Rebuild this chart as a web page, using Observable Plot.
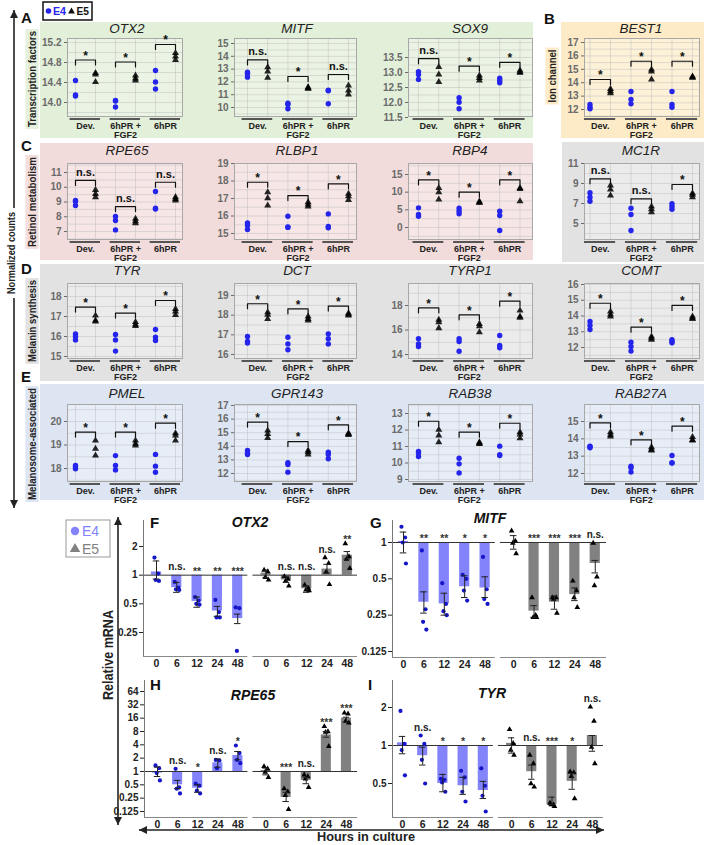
<!DOCTYPE html>
<html><head><meta charset="utf-8">
<script src="https://cdn.jsdelivr.net/npm/d3@7"></script>
<script src="https://cdn.jsdelivr.net/npm/@observablehq/plot@0.6"></script>
<style>
body{margin:0;background:#fff;}
#root{position:relative;width:708px;height:845px;overflow:hidden;font-family:"Liberation Sans",Arial,sans-serif;}
</style></head><body><div id="root"></div>
<script>
// ---------------- DATA: normalized counts (top panels) ----------------
const GROUPS = ["Dev.", "6hPR +\nFGF2", "6hPR"];
const OTX2_E4 = [[14.44,14.15,14.13],[14.04,14.03,13.91],[14.64,14.41,14.27]];
const OTX2_E5 = [[14.59,14.56,14.41],[14.54,14.48,14.44],[14.99,14.92,14.85]];
const OTX2_SIG = ["*","*","*"];
const OTX2_BRK = [14.85,14.81,15.16];
const MITF_E4 = [[12.76,12.63,12.37],[10.34,10.23,9.9],[11.35,11.31,10.29]];
const MITF_E5 = [[13.15,12.81,12.32],[11.59,11.5,11.46],[11.72,11.33,11.02]];
const MITF_SIG = ["n.s.","*","n.s."];
const MITF_BRK = [13.72,12.42,12.58];
const SOX9_E4 = [[13.03,12.93,12.77],[12.16,12.01,11.79],[12.81,12.73,12.66]];
const SOX9_E5 = [[13.18,12.93,12.68],[12.9,12.82,12.73],[13.07,13.01,12.99]];
const SOX9_SIG = ["n.s.","*","*"];
const SOX9_BRK = [13.46,13.21,13.34];
const BEST1_E4 = [[12.37,12.17,12.05],[13.34,12.75,12.42],[13.34,12.37,12.17]];
const BEST1_E5 = [[13.54,13.37,13.22],[14.99,14.84,14.24],[14.46,14.41,14.38]];
const BEST1_SIG = ["*","*","*"];
const BEST1_BRK = [14.24,15.6,15.6];
const RPE65_E4 = [[9.1,9.03,8.76],[8.02,7.75,7.11],[9.71,8.58,8.52]];
const RPE65_E5 = [[9.82,9.55,9.33],[7.86,7.7,7.56],[9.33,9.21,9.1]];
const RPE65_SIG = ["n.s.","n.s.","n.s."];
const RPE65_BRK = [10.46,8.69,10.34];
const RLBP1_E4 = [[15.61,15.46,15.23],[15.99,15.38,15.35],[16.12,15.4,15.33]];
const RLBP1_E5 = [[17.36,17.02,16.6],[16.79,16.66,16.54],[17.27,17.13,16.92]];
const RLBP1_SIG = ["*","*","*"];
const RLBP1_BRK = [17.93,17.17,17.84];
const RBP4_E4 = [[5.56,3.68,3.2],[5.47,4.62,3.87],[4.62,3.4,-0.85]];
const RBP4_E5 = [[11.2,9.99,7.92],[7.36,7.1,6.98],[11.2,10.9,7.45]];
const RBP4_SIG = ["*","*","*"];
const RBP4_BRK = [13.49,9.99,13.49];
const MC1R_E4 = [[8.07,7.63,7.23],[6.53,5.9,4.3],[6.97,6.7,6.43]];
const MC1R_E5 = [[8.8,8.4,7.8],[6.7,6.43,6.13],[8.03,7.87,7.63]];
const MC1R_SIG = ["n.s.","n.s.","*"];
const MC1R_BRK = [9.47,7.47,8.9];
const TYR_E4 = [[16.13,16.0,15.83],[16.1,15.83,15.27],[16.35,15.97,15.8]];
const TYR_E5 = [[17.05,16.8,16.75],[16.72,16.6,16.52],[17.38,17.25,17.08]];
const TYR_SIG = ["*","*","*"];
const TYR_BRK = [17.47,17.17,17.8];
const DCT_E4 = [[16.92,16.66,16.58],[16.88,16.54,16.24],[17.05,16.8,16.54]];
const DCT_E5 = [[18.15,18.02,17.81],[17.93,17.81,17.73],[18.1,18.03,17.98]];
const DCT_SIG = ["*","*","*"];
const DCT_BRK = [18.58,18.32,18.46];
const TYRP1_E4 = [[15.28,14.87,14.65],[15.28,15.06,14.27],[15.55,14.73,14.55]];
const TYRP1_E5 = [[16.83,16.64,16.15],[16.5,16.31,15.82],[17.59,17.1,17.0]];
const TYRP1_SIG = ["*","*","*"];
const TYRP1_BRK = [17.81,17.24,18.35];
const COMT_E4 = [[13.65,13.4,13.14],[12.34,12.06,11.77],[12.49,12.38,12.3]];
const COMT_E5 = [[14.29,14.1,13.97],[12.7,12.59,12.49],[13.97,13.85,13.82]];
const COMT_SIG = ["*","*","*"];
const COMT_BRK = [14.81,13.29,14.67];
const PMEL_E4 = [[18.13,18.06,17.99],[18.55,18.13,17.94],[18.6,18.1,17.84]];
const PMEL_E5 = [[19.19,18.84,18.55],[19.19,19.05,18.98],[19.5,19.4,19.19]];
const PMEL_SIG = ["*","*","*"];
const PMEL_BRK = [19.55,19.55,19.93];
const GPR143_E4 = [[13.69,13.5,13.4],[12.79,12.66,12.1],[13.57,13.4,13.08]];
const GPR143_E5 = [[15.16,14.9,14.62],[13.69,13.57,13.4],[14.96,14.9,14.84]];
const GPR143_SIG = ["*","*","*"];
const GPR143_BRK = [15.78,14.35,15.58];
const RAB38_E4 = [[10.7,10.6,10.39],[10.29,9.95,9.4],[11.02,10.5,10.45]];
const RAB38_E5 = [[12.01,11.67,11.26],[11.26,11.2,11.16],[11.87,11.73,11.5]];
const RAB38_SIG = ["*","*","*"];
const RAB38_BRK = [12.53,11.87,12.41];
const RAB27A_E4 = [[13.58,13.55,13.48],[12.42,12.33,12.08],[13.04,12.62,12.6]];
const RAB27A_E5 = [[14.38,14.23,14.13],[13.52,13.38,13.33],[14.1,13.94,13.9]];
const RAB27A_SIG = ["*","*","*"];
const RAB27A_BRK = [14.92,13.94,14.73];

// ---------------- DATA: relative mRNA (bottom panels) ----------------
const HOURS = ["0","6","12","24","48"];
const qOTX2_E4_PTS = [[1.53,1.04,0.89,0.87],[0.85,0.74,0.71,0.70],[0.59,0.54,0.50,0.49],[0.55,0.41,0.36,0.36],[0.46,0.45,0.16]];
const qOTX2_E4_MEAN = [1.08,0.74,0.53,0.42,0.35];
const qOTX2_E4_LO = [0.91,0.66,0.46,0.37,0.31];
const qOTX2_E4_HI = [1.41,0.84,0.59,0.47,0.39];
const qOTX2_E4_SIG = ["","n.s.","**","**","***"];
const qOTX2_E5_PTS = [[1.13,1.09,0.95,0.89],[0.97,0.91,0.87,0.77],[0.79,0.73,0.70,0.69],[1.53,1.33,1.08,0.80],[2.15,1.57,1.47,1.18]];
const qOTX2_E5_MEAN = [1.05,0.89,0.72,1.16,1.62];
const qOTX2_E5_LO = [0.95,0.84,0.66,1.05,1.48];
const qOTX2_E5_HI = [1.13,0.96,0.77,1.30,1.77];
const qOTX2_E5_SIG = ["","n.s.","n.s.","n.s.","**"];

const qMITF_E4_PTS = [[1.35,1.1,1.0,0.67],[0.86,0.28,0.22,0.19],[0.46,0.31,0.27,0.25],[0.54,0.50,0.40,0.33],[0.76,0.41,0.34,0.31]];
const qMITF_E4_MEAN = [1.02,0.32,0.31,0.43,0.42];
const qMITF_E4_LO = [0.82,0.26,0.25,0.35,0.35];
const qMITF_E4_HI = [1.22,0.39,0.38,0.53,0.52];
const qMITF_E4_SIG = ["","**","**","*","*"];
const qMITF_E5_PTS = [[1.25,1.03,0.99,0.81],[0.35,0.25,0.24,0.24],[0.35,0.35,0.34,0.26],[0.48,0.40,0.35,0.29],[0.99,0.52,0.44]];
const qMITF_E5_MEAN = [1.0,0.27,0.32,0.37,0.67];
const qMITF_E5_LO = [0.88,0.24,0.28,0.33,0.56];
const qMITF_E5_HI = [1.14,0.30,0.36,0.42,0.71];
const qMITF_E5_SIG = ["","***","***","***","n.s."];

const qRPE65_E4_PTS = [[1.37,1.19,0.92,0.63],[1.15,0.44,0.41,0.32],[0.53,0.48,0.37,0.32],[1.83,1.77,1.19],[3.86,2.6,1.83,1.54]];
const qRPE65_E4_MEAN = [0.92,0.5,0.42,1.57,2.3];
const qRPE65_E4_LO = [0.77,0.41,0.34,1.25,1.83];
const qRPE65_E4_HI = [1.25,0.63,0.5,1.93,2.83];
const qRPE65_E4_SIG = ["","n.s.","*","n.s.","*"];
const qRPE65_E5_PTS = [[1.3,1.15,0.97,0.74],[0.41,0.35,0.29,0.14],[0.84,0.77,0.68,0.44],[10.4,8.0,7.7,3.7],[21,20,13.7,12.5]];
const qRPE65_E5_MEAN = [1.05,0.26,0.63,6.7,16];
const qRPE65_E5_LO = [0.84,0.21,0.53,5.95,12.9];
const qRPE65_E5_HI = [1.19,0.34,0.74,8.0,16.8];
const qRPE65_E5_SIG = ["","***","n.s.","***","***"];

const qTYR_E4_PTS = [[1.88,1.03,0.92,0.58],[1.2,1.03,0.77,0.50],[0.545,0.535,0.51,0.43],[0.63,0.56,0.43,0.36],[0.66,0.48,0.40,0.30]];
const qTYR_E4_MEAN = [1.05,0.83,0.50,0.48,0.44];
const qTYR_E4_LO = [0.86,0.70,0.43,0.41,0.38];
const qTYR_E4_HI = [1.18,0.97,0.59,0.56,0.52];
const qTYR_E4_SIG = ["","n.s.","*","*","*"];
const qTYR_E5_PTS = [[1.34,1.04,0.92,0.84],[0.84,0.72,0.50,0.47],[0.35,0.34,0.34,0.33],[0.62,0.61,0.57,0.38],[2.02,1.56,0.97,0.72]];
const qTYR_E5_MEAN = [1.04,0.62,0.34,0.52,1.2];
const qTYR_E5_LO = [0.87,0.54,0.34,0.45,0.9];
const qTYR_E5_HI = [1.15,0.70,0.39,0.60,1.2];
const qTYR_E5_SIG = ["","n.s.","***","*","n.s."];

// ---------------- LAYOUT ----------------
const FONT = '"Liberation Sans", Arial, sans-serif';
const root = document.getElementById("root");
function place(node, x, y, z){
  const d = document.createElement("div");
  d.style.cssText = `position:absolute;left:${x}px;top:${y}px;z-index:${z};line-height:0;`;
  d.appendChild(node); root.appendChild(d);
}
const ROWS = [{yt:38,yb:116,ty:28},{yt:163,yb:239,ty:150},{yt:283,yb:358,ty:270},{yt:404,yb:481,ty:393}];
const COLS = [{xl:67,xr:182,p0:75,st:20,tx:127},{xl:234,xr:356,p0:247,st:20.2,tx:297},
              {xl:408,xr:532,p0:418,st:20.3,tx:470},{xl:584,xr:699,p0:589.5,st:20.5,tx:641}];
const TOP = [
 {g:"OTX2",e4:OTX2_E4,e5:OTX2_E5,sig:OTX2_SIG,brk:OTX2_BRK,ticks:[14.0,14.4,14.8,15.2],fmt:".1f",t:[15.2,42,14.0,102],row:0,col:0},
 {g:"MITF",e4:MITF_E4,e5:MITF_E5,sig:MITF_SIG,brk:MITF_BRK,ticks:[10,11,12,13,14,15],fmt:"d",t:[15,43,10,107],row:0,col:1},
 {g:"SOX9",e4:SOX9_E4,e5:SOX9_E5,sig:SOX9_SIG,brk:SOX9_BRK,ticks:[11.5,12.0,12.5,13.0,13.5],fmt:".1f",t:[13.5,57,11.5,117],row:0,col:2},
 {g:"BEST1",e4:BEST1_E4,e5:BEST1_E5,sig:BEST1_SIG,brk:BEST1_BRK,ticks:[12,13,14,15,16,17],fmt:"d",t:[17,42,12,109],row:0,col:3},
 {g:"RPE65",e4:RPE65_E4,e5:RPE65_E5,sig:RPE65_SIG,brk:RPE65_BRK,ticks:[7,8,9,10,11],fmt:"d",t:[11,172,7,231],row:1,col:0},
 {g:"RLBP1",e4:RLBP1_E4,e5:RLBP1_E5,sig:RLBP1_SIG,brk:RLBP1_BRK,ticks:[15,16,17,18,19],fmt:"d",t:[19,163,15,233],row:1,col:1},
 {g:"RBP4",e4:RBP4_E4,e5:RBP4_E5,sig:RBP4_SIG,brk:RBP4_BRK,ticks:[0,5,10,15],fmt:"d",t:[15,174,0,227],row:1,col:2},
 {g:"MC1R",e4:MC1R_E4,e5:MC1R_E5,sig:MC1R_SIG,brk:MC1R_BRK,ticks:[5,7,9,11],fmt:"d",t:[11,163,5,223],row:1,col:3},
 {g:"TYR",e4:TYR_E4,e5:TYR_E5,sig:TYR_SIG,brk:TYR_BRK,ticks:[15,16,17,18],fmt:"d",t:[18,296,15,356],row:2,col:0},
 {g:"DCT",e4:DCT_E4,e5:DCT_E5,sig:DCT_SIG,brk:DCT_BRK,ticks:[16,17,18,19],fmt:"d",t:[19,295,16,354],row:2,col:1},
 {g:"TYRP1",e4:TYRP1_E4,e5:TYRP1_E5,sig:TYRP1_SIG,brk:TYRP1_BRK,ticks:[14,16,18],fmt:"d",t:[18,305,14,354],row:2,col:2},
 {g:"COMT",e4:COMT_E4,e5:COMT_E5,sig:COMT_SIG,brk:COMT_BRK,ticks:[12,13,14,15,16],fmt:"d",t:[16,284,12,347],row:2,col:3},
 {g:"PMEL",e4:PMEL_E4,e5:PMEL_E5,sig:PMEL_SIG,brk:PMEL_BRK,ticks:[18,19,20],fmt:"d",t:[20,421,18,468],row:3,col:0},
 {g:"GPR143",e4:GPR143_E4,e5:GPR143_E5,sig:GPR143_SIG,brk:GPR143_BRK,ticks:[12,13,14,15,16,17],fmt:"d",t:[17,405,12,473],row:3,col:1},
 {g:"RAB38",e4:RAB38_E4,e5:RAB38_E5,sig:RAB38_SIG,brk:RAB38_BRK,ticks:[9,10,11,12,13],fmt:"d",t:[13,413,9,479],row:3,col:2},
 {g:"RAB27A",e4:RAB27A_E4,e5:RAB27A_E5,sig:RAB27A_SIG,brk:RAB27A_BRK,ticks:[12,13,14,15],fmt:"d",t:[15,421,12,473],row:3,col:3}
];

// ---------------- BACKGROUND ----------------
const bg = d3.create("svg").attr("width",708).attr("height",845);
const BANDS = [[40,22,493,116,"#e2efd9"],[561,22,143,116,"#fdebc8"],[40,143,493,117,"#f2dcdb"],
               [562,142,142,120,"#e2e2e2"],[40,264,664,117,"#e2e2e2"],[40,384,664,116,"#dde5f2"]];
BANDS.forEach(b=>bg.append("rect").attr("x",b[0]).attr("y",b[1]).attr("width",b[2]).attr("height",b[3]).attr("fill",b[4]));
place(bg.node(),0,0,0);

// ---------------- TOP PANELS ----------------
function topPanel(p){
  const R = ROWS[p.row], C = COLS[p.col];
  const [v1,p1,v2,p2] = p.t;
  const ppu = (p2-p1)/(v1-v2);
  const vAt = y => v1 - (y-p1)/ppu;
  const ydom = [vAt(R.yb), vAt(R.yt)];
  const sAt = px => (px-C.p0)/C.st;
  const xdom = [sAt(C.xl), sAt(C.xr)];
  const mL=34,mR=4,mT=4,mB=28;
  const W = C.xr-C.xl+mL+mR, H = R.yb-R.yt+mT+mB;
  const e4 = [], e5 = [];
  p.e4.forEach((a,g)=>a.forEach(v=>e4.push({x:2*g,y:v})));
  p.e5.forEach((a,g)=>a.forEach(v=>e5.push({x:2*g+1,y:v})));
  const d = 5/ppu;
  const br = p.brk.flatMap((b,g)=>[{x:2*g,y:b-d,g},{x:2*g,y:b,g},{x:2*g+1,y:b,g},{x:2*g+1,y:b-d,g}]);
  const half = (p.ticks[1]-p.ticks[0])/2;
  const grid = d3.range(Math.ceil(ydom[0]/half-1e-9), Math.floor(ydom[1]/half+1e-9)+1).map(k=>k*half);
  const labs = p.sig.map((s,i)=>({s,i,y:p.brk[i]}));
  const plot = Plot.plot({
    width:W, height:H, marginLeft:mL, marginRight:mR, marginTop:mT, marginBottom:mB,
    x:{domain:xdom, axis:null, label:null},
    y:{domain:ydom, ticks:p.ticks, tickFormat:d3.format(p.fmt), tickSize:3, tickPadding:3, label:null},
    style:{background:"transparent", overflow:"visible", color:"#6a6a6a", fontSize:"10px", fontWeight:"bold", fontFamily:FONT},
    marks:[
      Plot.frame({fill:"white", fillOpacity:0.3}),
      Plot.ruleY(grid, {stroke:"#b8b8b8", strokeOpacity:0.7, strokeWidth:0.6}),
      Plot.ruleX(d3.range(0,6), {stroke:"#b8b8b8", strokeOpacity:0.7, strokeWidth:0.6}),
      Plot.frame({stroke:"#a8a8a8"}),
      Plot.ruleY(GROUPS, {y:()=>ydom[0], x1:(d,i)=>2*i-0.27, x2:(d,i)=>2*i+1.25, dy:2.5, stroke:"#555", strokeWidth:2}),
      Plot.text(GROUPS, {x:(d,i)=>2*i+0.5, y:()=>ydom[0], dy:5.5, text:d=>d, lineAnchor:"top", lineHeight:1.05, fontSize:9, fontWeight:"bold", fill:"#222"}),
      Plot.line(br, {x:"x", y:"y", z:"g", stroke:"#111", strokeWidth:1.2}),
      Plot.text(labs.filter(l=>l.s==="*"), {x:l=>2*l.i+0.5, y:"y", text:"s", dy:-4, fontSize:12, fontWeight:"bold", fill:"#111"}),
      Plot.text(labs.filter(l=>l.s!=="*"), {x:l=>2*l.i+0.5, y:"y", text:"s", dy:-8, fontSize:11, fontWeight:"bold", fill:"#111"}),
      Plot.dot(e4, {x:"x", y:"y", r:2.7, fill:"#2424ec", stroke:"none"}),
      Plot.dot(e5, {x:"x", y:"y", r:2.6, symbol:"triangle", fill:"#000", fillOpacity:0.85, stroke:"none"})
    ]
  });
  place(plot, C.xl-mL, R.yt-mT, 1);
}
TOP.forEach(topPanel);

// ---------------- BOTTOM PANELS ----------------
const BOT = [
 {g:"OTX2", L:"F", s:[[qOTX2_E4_PTS,qOTX2_E4_MEAN,qOTX2_E4_LO,qOTX2_E4_HI,qOTX2_E4_SIG],[qOTX2_E5_PTS,qOTX2_E5_MEAN,qOTX2_E5_LO,qOTX2_E5_HI,qOTX2_E5_SIG]],
  ticks:[0.25,0.5,1,2], t:[2,546,0.25,632], xl:143, xr:357, yt:520, yb:656, s0:156, st:20.3},
 {g:"MITF", L:"G", s:[[qMITF_E4_PTS,qMITF_E4_MEAN,qMITF_E4_LO,qMITF_E4_HI,qMITF_E4_SIG],[qMITF_E5_PTS,qMITF_E5_MEAN,qMITF_E5_LO,qMITF_E5_HI,qMITF_E5_SIG]],
  ticks:[0.125,0.25,0.5,1], t:[1,542,0.125,651], xl:392, xr:606, yt:520, yb:657, s0:403, st:20.4},
 {g:"RPE65", L:"H", s:[[qRPE65_E4_PTS,qRPE65_E4_MEAN,qRPE65_E4_LO,qRPE65_E4_HI,qRPE65_E4_SIG],[qRPE65_E5_PTS,qRPE65_E5_MEAN,qRPE65_E5_LO,qRPE65_E5_HI,qRPE65_E5_SIG]],
  ticks:[0.125,0.25,0.5,1,2,4,8,16,32,64], t:[64,691,0.125,811], xl:144, xr:357, yt:680, yb:817, s0:157, st:20.1},
 {g:"TYR", L:"I", s:[[qTYR_E4_PTS,qTYR_E4_MEAN,qTYR_E4_LO,qTYR_E4_HI,qTYR_E4_SIG],[qTYR_E5_PTS,qTYR_E5_MEAN,qTYR_E5_LO,qTYR_E5_HI,qTYR_E5_SIG]],
  ticks:[0.5,1,2], t:[2,707,0.5,783], xl:392, xr:603, yt:680, yb:817, s0:402, st:20.2}
];
const JIT = [-0.1,0.08,-0.04,0.12];
function botPanel(p){
  const [va,pa,vb,pb] = p.t;
  const ppd = (pb-pa)/Math.log2(va/vb);
  const vAt = y => va*Math.pow(2, -(y-pa)/ppd);
  const ydom = [vAt(p.yb), vAt(p.yt)];
  const sAt = px => (px-p.s0)/p.st;
  const xdom = [sAt(p.xl), sAt(p.xr)];
  const mL=36,mR=4,mT=4,mB=18;
  const W = p.xr-p.xl+mL+mR, H = p.yb-p.yt+mT+mB;
  const STY = [{off:0,bar:"#8383fb",dot:"#1616c8",sym:"circle",r:2.1},{off:5.4,bar:"#818181",dot:"#000",sym:"triangle",r:2.1}];
  const bars=[], pts=[[],[]], labs=[], hrs=[];
  p.s.forEach(([P,M,LO,HI,SIG],k)=>{
    const o = STY[k].off;
    M.forEach((m,i)=>{
      bars.push({x:o+i, k, m, lo:LO[i], hi:HI[i]});
      P[i].forEach((v,j)=>pts[k].push({x:o+i+JIT[j%4], y:v}));
      if (SIG[i]) labs.push({x:o+i, s:SIG[i], y:Math.max(1, d3.max(P[i]), HI[i])});
      hrs.push({x:o+i, h:HOURS[i]});
    });
  });
  const halves = [{a:xdom[0], b:4.5},{a:4.75, b:xdom[1]}];
  const plot = Plot.plot({
    width:W, height:H, marginLeft:mL, marginRight:mR, marginTop:mT, marginBottom:mB,
    x:{domain:xdom, axis:null, label:null},
    y:{type:"log", base:2, domain:ydom, ticks:p.ticks, tickFormat:d=>String(d), tickSize:4, tickPadding:2, label:null},
    style:{background:"transparent", overflow:"visible", color:"#222", fontSize:"10px", fontWeight:"bold", fontFamily:FONT},
    marks:[
      Plot.rect(bars, {x1:d=>d.x-0.25, x2:d=>d.x+0.25, y1:()=>1, y2:"m", fill:d=>STY[d.k].bar}),
      Plot.ruleY(halves, {y:()=>1, x1:"a", x2:"b", stroke:"#333", strokeWidth:1}),
      Plot.ruleY(halves, {y:()=>ydom[0], x1:"a", x2:"b", stroke:"#888", strokeWidth:1.2}),
      Plot.ruleX([xdom[0]], {stroke:"#777", strokeWidth:1}),
      Plot.dot(pts[0], {x:"x", y:"y", r:STY[0].r, fill:STY[0].dot, stroke:"none"}),
      Plot.dot(pts[1], {x:"x", y:"y", r:STY[1].r, symbol:"triangle", fill:STY[1].dot, stroke:"none"}),
      Plot.ruleX(bars, {x:"x", y1:"lo", y2:"hi", stroke:"#222", strokeWidth:1}),
      Plot.ruleY(bars, {y:"lo", x1:d=>d.x-0.16, x2:d=>d.x+0.16, stroke:"#222", strokeWidth:1}),
      Plot.ruleY(bars, {y:"hi", x1:d=>d.x-0.16, x2:d=>d.x+0.16, stroke:"#222", strokeWidth:1}),
      Plot.text(labs.filter(l=>l.s[0]==="*"), {x:"x", y:"y", text:"s", dy:-4, fontSize:10.5, fontWeight:"bold", fill:"#333"}),
      Plot.text(labs.filter(l=>l.s[0]!=="*"), {x:"x", y:"y", text:"s", dy:-8, fontSize:10, fontWeight:"bold", fill:"#222"}),
      Plot.text(hrs, {x:"x", y:()=>ydom[0], dy:7, text:"h", fontSize:10.5, fontWeight:"bold", fill:"#222"})
    ]
  });
  place(plot, p.xl-mL, p.yt-mT, 1);
}
BOT.forEach(botPanel);

// ---------------- OVERLAY: titles, labels, arrows, legends ----------------
const ov = d3.create("svg").attr("width",708).attr("height",845).style("font-family",FONT).style("pointer-events","none");
TOP.forEach(p=>ov.append("text").attr("x",COLS[p.col].tx).attr("y",ROWS[p.row].ty).attr("text-anchor","middle")
  .attr("dominant-baseline","central").attr("font-style","italic").attr("font-size",13.5).attr("fill","#222").text(p.g));
const BT = [[250,522],[490,518],[253,695],[492,693]];
BOT.forEach((p,i)=>ov.append("text").attr("x",BT[i][0]).attr("y",BT[i][1]).attr("text-anchor","middle")
  .attr("dominant-baseline","central").attr("font-style","italic").attr("font-weight","bold").attr("font-size",14).attr("fill","#111").text(p.g));
// panel letters
[["A",21,23],["B",544,24],["C",21,151],["D",21,274],["E",21,382]].forEach(([t,x,y])=>
  ov.append("text").attr("x",x).attr("y",y).attr("font-weight","bold").attr("font-size",15).attr("fill","#111").text(t));
[["F",150,528],["G",370,528],["H",150,690],["I",368,690]].forEach(([t,x,y])=>
  ov.append("text").attr("x",x).attr("y",y).attr("font-weight","bold").attr("font-size",15).attr("fill","#111").text(t));
// arrows
function arrow(x1,y1,x2,y2){
  ov.append("line").attr("x1",x1).attr("y1",y1).attr("x2",x2).attr("y2",y2).attr("stroke","#222").attr("stroke-width",1.6);
  const head = (x,y,dx,dy)=>{ const px=-dy, py=dx;
    ov.append("path").attr("d",`M${x},${y}L${x-dx*8+px*4},${y-dy*8+py*4}L${x-dx*8-px*4},${y-dy*8-py*4}Z`).attr("fill","#222"); };
  const L = Math.hypot(x2-x1,y2-y1), ux=(x2-x1)/L, uy=(y2-y1)/L;
  head(x2,y2,ux,uy); head(x1,y1,-ux,-uy);
}
arrow(14,10,14,508);
arrow(118,517,118,825);
arrow(139,830,604,830);
// rotated labels
function vlabel(txt,cx,cy,len,size,bgc,pad){
  if (bgc) ov.append("rect").attr("x",cx-size*0.6).attr("y",cy-len/2-(pad||2)).attr("width",size*1.2).attr("height",len+2*(pad||2)).attr("fill",bgc);
  ov.append("text").attr("transform",`translate(${cx},${cy}) rotate(-90)`).attr("text-anchor","middle").attr("dominant-baseline","central")
    .attr("font-weight","bold").attr("font-size",size).attr("fill","#222").attr("textLength",len).attr("lengthAdjust","spacingAndGlyphs").text(txt);
}
vlabel("Transcription factors",32,79,96,11,"#e6f1dd");
vlabel("Ion channel",552,76,53,11,"#fdebc8");
vlabel("Retinol metabolism",32,202,90,11,"#f4dfde");
vlabel("Melanin synthesis",32,321,82,11,"#e2e2e2");
vlabel("Melanosome-associated",32,444,112,11,"#dde5f2");
vlabel("Normalized counts",11,253,82,11.5,"#fff",4);
vlabel("Relative mRNA",108,655,90,14,null);
ov.append("text").attr("x",366).attr("y",841).attr("text-anchor","middle").attr("font-weight","bold").attr("font-size",13.5)
  .attr("fill","#222").attr("textLength",98).attr("lengthAdjust","spacingAndGlyphs").text("Hours in culture");
// top legend
ov.append("rect").attr("x",43).attr("y",2).attr("width",49).attr("height",18).attr("fill","#fff").attr("stroke","#111").attr("stroke-width",1.5);
ov.append("circle").attr("cx",48.5).attr("cy",11).attr("r",2.8).attr("fill","#2424ec");
ov.append("text").attr("x",53).attr("y",15.3).attr("font-weight","bold").attr("font-size",11.5).attr("fill","#2424ec").attr("textLength",13).attr("lengthAdjust","spacingAndGlyphs").text("E4");
ov.append("path").attr("d",d3.symbol(d3.symbolTriangle,20)()).attr("transform","translate(71.5,11.5)").attr("fill","#111");
ov.append("text").attr("x",76.5).attr("y",15.3).attr("font-weight","bold").attr("font-size",11.5).attr("fill","#111").attr("textLength",12.5).attr("lengthAdjust","spacingAndGlyphs").text("E5");
// bottom legend
ov.append("rect").attr("x",66).attr("y",520).attr("width",44).attr("height",37).attr("fill","#fff").attr("stroke","#999").attr("stroke-width",1);
ov.append("circle").attr("cx",75).attr("cy",531).attr("r",4.2).attr("fill","#8383fb");
ov.append("text").attr("x",82).attr("y",536).attr("font-size",14).attr("fill","#8383fb").text("E4");
ov.append("path").attr("d",d3.symbol(d3.symbolTriangle,48)()).attr("transform","translate(75,549)").attr("fill","#818181");
ov.append("text").attr("x",82).attr("y",554).attr("font-size",14).attr("fill","#818181").text("E5");
place(ov.node(),0,0,2);
</script></body></html>
